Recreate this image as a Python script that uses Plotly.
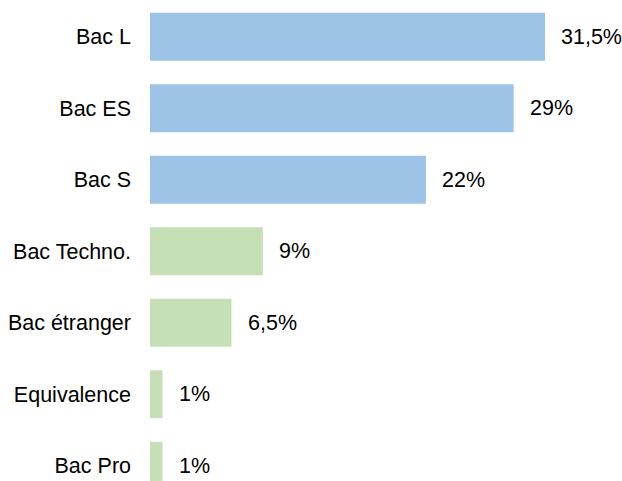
import plotly.graph_objects as go

categories = ["Bac L", "Bac ES", "Bac S", "Bac Techno.", "Bac étranger", "Equivalence", "Bac Pro"]
values = [31.5, 29, 22, 9, 6.5, 1, 1]
labels = ["31,5%", "29%", "22%", "9%", "6,5%", "1%", "1%"]
groups = ["general", "general", "general", "other", "other", "other", "other"]

COLORS = {"general": "#9DC3E6", "other": "#C5E0B4"}
FONT = "Liberation Sans, Arial, sans-serif"
FONT_SIZE = 21.5

fig = go.Figure()
fig.add_trace(
    go.Bar(
        x=values,
        y=list(range(len(categories))),
        orientation="h",
        marker_color=[COLORS[g] for g in groups],
        marker_line_width=0,
        hoverinfo="skip",
    )
)

# value labels to the right of each bar
for i, (v, lab) in enumerate(zip(values, labels)):
    fig.add_annotation(
        x=v,
        y=i,
        text=lab,
        showarrow=False,
        xanchor="left",
        xshift=14,
        font=dict(family=FONT, size=FONT_SIZE, color="#000000"),
    )

px_per_row = 71.5
plot_h = 480
fig.update_yaxes(
    tickmode="array",
    tickvals=list(range(len(categories))),
    ticktext=categories,
    range=[-0.5 + plot_h / px_per_row, -0.5],
    showgrid=False,
    zeroline=False,
    showline=False,
    ticks="",
    automargin=False,
    ticklabelstandoff=18,
    tickfont=dict(family=FONT, size=FONT_SIZE, color="#000000"),
)
fig.update_xaxes(
    range=[0, 472 / 12.54],
    visible=False,
    showgrid=False,
    zeroline=False,
    automargin=False,
)

fig.update_layout(
    width=622,
    height=481,
    margin=dict(l=150, r=0, t=1, b=0, pad=0),
    bargap=0.33,
    showlegend=False,
    plot_bgcolor="white",
    paper_bgcolor="white",
)

# drop the browser's default 8px body margin so the chart sits flush
fig.write_html(
    "out.html",
    config={"displayModeBar": False},
    post_script="document.body.style.margin='0';document.body.style.overflow='hidden';",
)
